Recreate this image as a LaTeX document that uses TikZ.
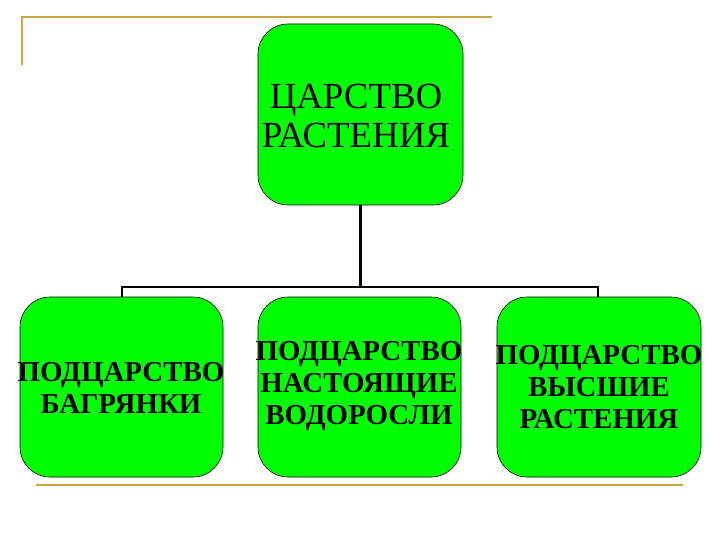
\documentclass[tikz,border=0pt]{standalone}
\usepackage{fontspec}
\setmainfont{Liberation Serif}
\definecolor{gold}{HTML}{C8A640}
\definecolor{boxgreen}{HTML}{00FF00}
\begin{document}
\begin{tikzpicture}[x=1bp,y=-1bp,
  greenbox/.style={draw=black, line width=0.6bp, fill=boxgreen, rounded corners=30bp},
  boxtext/.style={align=center, font=\fontsize{29}{32.5}\selectfont\bfseries, inner sep=0pt},
  toptext/.style={align=center, font=\fontsize{37}{40}\selectfont, inner sep=0pt},
  frame/.style={draw=gold, line width=2.5bp}]
\useasboundingbox (0,0) rectangle (720,540);
% decorative gold lines
\draw[frame] (22,65) -- (22,17) -- (492,17);
\draw[frame] (36,485) -- (683,485);
% boxes
\draw[greenbox] (258,24) rectangle (463,205);
\draw[greenbox] (20,297) rectangle (223,477);
\draw[greenbox] (258,297) rectangle (461,477);
\draw[greenbox] (497,297) rectangle (701,477);
\node[toptext] (top) at (356,116) {ЦАРСТВО\\РАСТЕНИЯ};
\node[boxtext] (left) at (121,388) {ПОДЦАРСТВО\\БАГРЯНКИ};
\node[boxtext] (mid) at (359,386) {ПОДЦАРСТВО\\НАСТОЯЩИЕ\\ВОДОРОСЛИ};
\node[boxtext] (right) at (599,387) {ПОДЦАРСТВО\\ВЫСШИЕ\\РАСТЕНИЯ};
% connectors
\coordinate (topb) at (360,205);
\coordinate (j) at (360,287);
\coordinate (jl) at (122,287);
\coordinate (jr) at (598,287);
\coordinate (lb) at (122,297);
\coordinate (rb) at (598,297);
\draw[line width=3bp] (topb) -- (j);
\draw[line width=2bp] (lb) -- (jl) -- (jr) -- (rb);
\end{tikzpicture}
\end{document}
